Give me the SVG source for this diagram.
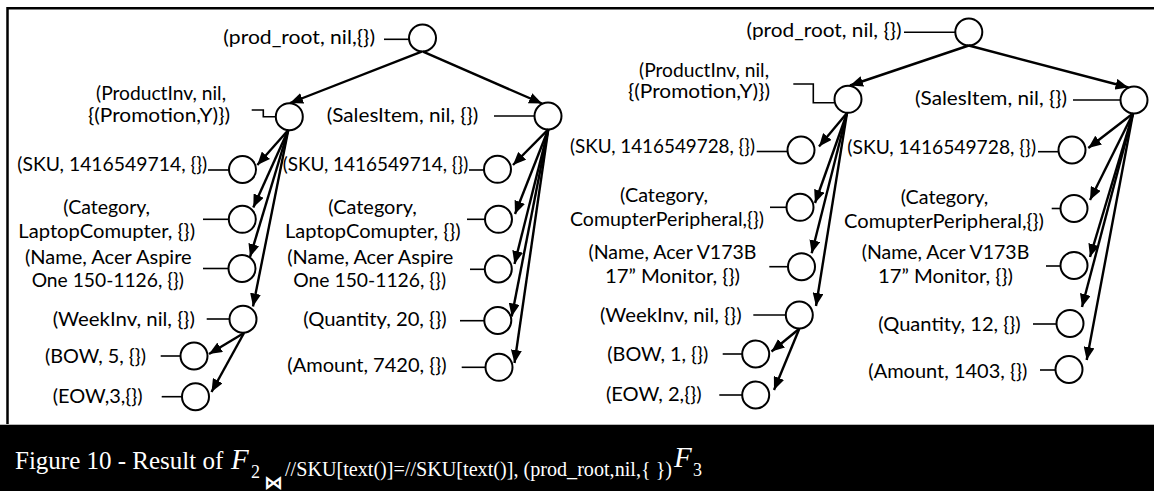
<svg xmlns="http://www.w3.org/2000/svg" width="1154" height="491" viewBox="0 0 1154 491">
  <style>
    .lbl { font-family: Lato, "Open Sans", "Liberation Sans", sans-serif; font-size: 18.5px; fill: #000; text-anchor: middle; }
    .node ellipse { fill: #fff; stroke: #000; stroke-width: 2; }
    .lead { fill: none; stroke: #000; stroke-width: 1.6; }
    .arr { fill: none; stroke: #000; stroke-width: 2.4; marker-end: url(#ah); }
    .cap { font-family: "Liberation Serif", "Times New Roman", serif; fill: #fff; }
  </style>
  <defs>
    <marker id="ah" markerUnits="userSpaceOnUse" markerWidth="14" markerHeight="11" refX="13" refY="5.5" orient="auto">
      <path d="M0,0 L13,5.5 L0,11 Z" fill="#000"/>
    </marker>
  </defs>

  <!-- page background and frame -->
  <rect x="0" y="0" width="1154" height="491" fill="#fff"/>
  <path d="M7.5,424 V8.3 H1160" fill="none" stroke="#000" stroke-width="2.5"/>

  <!-- left tree -->
  <g id="l-root" class="node">
    <path class="lead" d="M384,39.3 H409"/>
    <ellipse cx="422.5" cy="38" rx="13.5" ry="13.5"/>
    <text class="lbl" x="299.2" y="44" textLength="151.7" lengthAdjust="spacingAndGlyphs">(prod_root, nil,{})</text>
  </g>
  <g id="l-productinv" class="node">
    <path class="lead" d="M251.7,110 H263.3 V116.7 H276"/>
    <ellipse cx="289.3" cy="116.7" rx="13.5" ry="13.5"/>
    <text class="lbl" x="161" y="100" textLength="130" lengthAdjust="spacingAndGlyphs">(ProductInv, nil,</text>
    <text class="lbl" x="159" y="122" textLength="142" lengthAdjust="spacingAndGlyphs">{(Promotion,Y)})</text>
  </g>
  <g id="l-salesitem" class="node">
    <path class="lead" d="M494,116 H534.5"/>
    <ellipse cx="548" cy="116" rx="13.5" ry="13.5"/>
    <text class="lbl" x="402.5" y="122" textLength="151.6" lengthAdjust="spacingAndGlyphs">(SalesItem, nil, {})</text>
  </g>
  <g id="l-pi-sku" class="node">
    <path class="lead" d="M208,170 H229"/>
    <ellipse cx="242.5" cy="169.5" rx="13.5" ry="13.5"/>
    <text class="lbl" x="112.3" y="171" textLength="190" lengthAdjust="spacingAndGlyphs">(SKU, 1416549714, {})</text>
  </g>
  <g id="l-pi-category" class="node">
    <path class="lead" d="M203,219.3 H229"/>
    <ellipse cx="242.3" cy="219.3" rx="13.5" ry="13.5"/>
    <text class="lbl" x="106.7" y="214" textLength="86.7" lengthAdjust="spacingAndGlyphs">(Category,</text>
    <text class="lbl" x="106.7" y="237.5" textLength="176.7" lengthAdjust="spacingAndGlyphs">LaptopComupter, {})</text>
  </g>
  <g id="l-pi-name" class="node">
    <path class="lead" d="M203,268.5 H228.5"/>
    <ellipse cx="242" cy="268.5" rx="13.5" ry="13.5"/>
    <text class="lbl" x="108.3" y="263.5" textLength="166.7" lengthAdjust="spacingAndGlyphs">(Name, Acer Aspire</text>
    <text class="lbl" x="107.8" y="287" textLength="152.3" lengthAdjust="spacingAndGlyphs">One 150-1126, {})</text>
  </g>
  <g id="l-weekinv" class="node">
    <path class="lead" d="M206.7,319 H229.5"/>
    <ellipse cx="243" cy="319.2" rx="13.5" ry="13.5"/>
    <text class="lbl" x="123.8" y="326" textLength="142.3" lengthAdjust="spacingAndGlyphs">(WeekInv, nil, {})</text>
  </g>
  <g id="l-bow" class="node">
    <path class="lead" d="M160.7,356 H180.5"/>
    <ellipse cx="194" cy="356" rx="13.5" ry="13.5"/>
    <text class="lbl" x="95.5" y="363" textLength="101" lengthAdjust="spacingAndGlyphs">(BOW, 5, {})</text>
  </g>
  <g id="l-eow" class="node">
    <path class="lead" d="M161.7,396.7 H182"/>
    <ellipse cx="195.5" cy="396.7" rx="13.5" ry="13.5"/>
    <text class="lbl" x="97.7" y="403" textLength="90" lengthAdjust="spacingAndGlyphs">(EOW,3,{})</text>
  </g>
  <g id="l-si-sku" class="node">
    <path class="lead" d="M469,170 H484"/>
    <ellipse cx="497.5" cy="169.3" rx="13.5" ry="13.5"/>
    <text class="lbl" x="375.5" y="171" textLength="185.6" lengthAdjust="spacingAndGlyphs">(SKU, 1416549714, {})</text>
  </g>
  <g id="l-si-category" class="node">
    <path class="lead" d="M467,219.3 H485"/>
    <ellipse cx="498.5" cy="219.3" rx="13.5" ry="13.5"/>
    <text class="lbl" x="372.5" y="214" textLength="88.4" lengthAdjust="spacingAndGlyphs">(Category,</text>
    <text class="lbl" x="372.8" y="237.5" textLength="175.7" lengthAdjust="spacingAndGlyphs">LaptopComupter, {})</text>
  </g>
  <g id="l-si-name" class="node">
    <path class="lead" d="M470,269.3 H484.8"/>
    <ellipse cx="498.3" cy="269" rx="13.5" ry="13.5"/>
    <text class="lbl" x="370.3" y="263.5" textLength="166" lengthAdjust="spacingAndGlyphs">(Name, Acer Aspire</text>
    <text class="lbl" x="369.7" y="287" textLength="152.7" lengthAdjust="spacingAndGlyphs">One 150-1126, {})</text>
  </g>
  <g id="l-quantity" class="node">
    <path class="lead" d="M460,320.7 H484.3"/>
    <ellipse cx="497.8" cy="320.5" rx="13.5" ry="13.5"/>
    <text class="lbl" x="375" y="325.5" textLength="143.4" lengthAdjust="spacingAndGlyphs">(Quantity, 20, {})</text>
  </g>
  <g id="l-amount" class="node">
    <path class="lead" d="M461.7,367.3 H485.5"/>
    <ellipse cx="499" cy="367.3" rx="13.5" ry="13.5"/>
    <text class="lbl" x="367" y="372" textLength="159.4" lengthAdjust="spacingAndGlyphs">(Amount, 7420, {})</text>
  </g>

  <!-- right tree -->
  <g id="r-root" class="node">
    <path class="lead" d="M904,32.3 H955.3"/>
    <ellipse cx="968.8" cy="32" rx="13.5" ry="13.5"/>
    <text class="lbl" x="824" y="37" textLength="155" lengthAdjust="spacingAndGlyphs">(prod_root, nil, {})</text>
  </g>
  <g id="r-productinv" class="node">
    <path class="lead" d="M793.3,84 H813.3 V102.7 H834.5"/>
    <ellipse cx="848" cy="99.3" rx="13.5" ry="13.5"/>
    <text class="lbl" x="704" y="77" textLength="130" lengthAdjust="spacingAndGlyphs">(ProductInv, nil,</text>
    <text class="lbl" x="699" y="98" textLength="142" lengthAdjust="spacingAndGlyphs">{(Promotion,Y)})</text>
  </g>
  <g id="r-salesitem" class="node">
    <path class="lead" d="M1073,100 H1120.5"/>
    <ellipse cx="1134" cy="100" rx="13.5" ry="13.5"/>
    <text class="lbl" x="991" y="105" textLength="152" lengthAdjust="spacingAndGlyphs">(SalesItem, nil, {})</text>
  </g>
  <g id="r-pi-sku" class="node">
    <path class="lead" d="M756.7,151.5 H787.5"/>
    <ellipse cx="801" cy="150" rx="13.5" ry="13.5"/>
    <text class="lbl" x="662.5" y="153" textLength="185" lengthAdjust="spacingAndGlyphs">(SKU, 1416549728, {})</text>
  </g>
  <g id="r-pi-category" class="node">
    <path class="lead" d="M770,207.3 H786.5"/>
    <ellipse cx="800" cy="207.3" rx="13.5" ry="13.5"/>
    <text class="lbl" x="664" y="202" textLength="88" lengthAdjust="spacingAndGlyphs">(Category,</text>
    <text class="lbl" x="667" y="225.5" textLength="194" lengthAdjust="spacingAndGlyphs">ComupterPeripheral,{})</text>
  </g>
  <g id="r-pi-name" class="node">
    <path class="lead" d="M769.3,266.7 H788"/>
    <ellipse cx="801.5" cy="266.7" rx="13.5" ry="13.5"/>
    <text class="lbl" x="672.5" y="258.5" textLength="168" lengthAdjust="spacingAndGlyphs">(Name, Acer V173B</text>
    <text class="lbl" x="672.5" y="282.5" textLength="135" lengthAdjust="spacingAndGlyphs">17” Monitor, {})</text>
  </g>
  <g id="r-weekinv" class="node">
    <path class="lead" d="M753.3,315 H785.8"/>
    <ellipse cx="799.3" cy="315" rx="13.5" ry="13.5"/>
    <text class="lbl" x="670.8" y="322" textLength="141.7" lengthAdjust="spacingAndGlyphs">(WeekInv, nil, {})</text>
  </g>
  <g id="r-bow" class="node">
    <path class="lead" d="M722.7,354 H742.2"/>
    <ellipse cx="755.7" cy="354" rx="13.5" ry="13.5"/>
    <text class="lbl" x="657.8" y="361" textLength="101" lengthAdjust="spacingAndGlyphs">(BOW, 1, {})</text>
  </g>
  <g id="r-eow" class="node">
    <path class="lead" d="M719.3,395 H742.2"/>
    <ellipse cx="755.7" cy="395" rx="13.5" ry="13.5"/>
    <text class="lbl" x="653.8" y="401" textLength="95.7" lengthAdjust="spacingAndGlyphs">(EOW, 2,{})</text>
  </g>
  <g id="r-si-sku" class="node">
    <path class="lead" d="M1038,151.7 H1058.5"/>
    <ellipse cx="1072" cy="150" rx="13.5" ry="13.5"/>
    <text class="lbl" x="941.7" y="153.5" textLength="188.7" lengthAdjust="spacingAndGlyphs">(SKU, 1416549728, {})</text>
  </g>
  <g id="r-si-category" class="node">
    <path class="lead" d="M1051.7,208.5 H1060.5"/>
    <ellipse cx="1074" cy="208.5" rx="13.5" ry="13.5"/>
    <text class="lbl" x="944.5" y="204" textLength="87.6" lengthAdjust="spacingAndGlyphs">(Category,</text>
    <text class="lbl" x="944" y="227.5" textLength="200" lengthAdjust="spacingAndGlyphs">ComupterPeripheral,{})</text>
  </g>
  <g id="r-si-name" class="node">
    <path class="lead" d="M1046,266 H1060.5"/>
    <ellipse cx="1074" cy="265.5" rx="13.5" ry="13.5"/>
    <text class="lbl" x="945.5" y="258.5" textLength="167.6" lengthAdjust="spacingAndGlyphs">(Name, Acer V173B</text>
    <text class="lbl" x="945.5" y="282.5" textLength="135" lengthAdjust="spacingAndGlyphs">17” Monitor, {})</text>
  </g>
  <g id="r-quantity" class="node">
    <path class="lead" d="M1033,324 H1056.5"/>
    <ellipse cx="1070" cy="323.5" rx="13.5" ry="13.5"/>
    <text class="lbl" x="949.5" y="331" textLength="142.4" lengthAdjust="spacingAndGlyphs">(Quantity, 12, {})</text>
  </g>
  <g id="r-amount" class="node">
    <path class="lead" d="M1040,370 H1055.5"/>
    <ellipse cx="1069" cy="369.5" rx="13.5" ry="13.5"/>
    <text class="lbl" x="947.8" y="378" textLength="159" lengthAdjust="spacingAndGlyphs">(Amount, 1403, {})</text>
  </g>

  <!-- parent-to-child edges -->
  <g id="connectors">
    <path class="arr" d="M421.7,51.7 L290,103"/>
    <path class="arr" d="M423,51.7 L542,103.5"/>
    <path class="arr" d="M288.3,130 L257.3,165"/>
    <path class="arr" d="M288.3,130 L253.3,207.5"/>
    <path class="arr" d="M288.3,130 L250,257"/>
    <path class="arr" d="M288.3,130 L253,306.5"/>
    <path class="arr" d="M244,333 L209,354"/>
    <path class="arr" d="M244,333 L211.5,392"/>
    <path class="arr" d="M548.3,129.3 L513,165"/>
    <path class="arr" d="M548.3,129.3 L515,214"/>
    <path class="arr" d="M548.3,129.3 L514.5,264"/>
    <path class="arr" d="M548.3,129.3 L511.7,316.5"/>
    <path class="arr" d="M548.3,129.3 L514.5,363"/>

    <path class="arr" d="M968.8,45.5 L850,85.5"/>
    <path class="arr" d="M968.8,45.5 L1128.5,87.5"/>
    <path class="arr" d="M847,113 L819,146.5"/>
    <path class="arr" d="M847,113 L815,203"/>
    <path class="arr" d="M847,113 L811.7,253.3"/>
    <path class="arr" d="M847,113 L816,306"/>
    <path class="arr" d="M799.3,328.7 L771.5,351.5"/>
    <path class="arr" d="M799.3,328.7 L774,390"/>
    <path class="arr" d="M1133,113.5 L1088.3,148"/>
    <path class="arr" d="M1133,113.5 L1090,200"/>
    <path class="arr" d="M1133,113.5 L1090,257"/>
    <path class="arr" d="M1133,113.5 L1082,307"/>
    <path class="arr" d="M1133,113.5 L1086.7,360"/>
  </g>

  <!-- caption band -->
  <rect x="0" y="424" width="1154" height="67" fill="#000"/>
  <line x1="0" y1="424.5" x2="1154" y2="424.5" stroke="#b8b8b8" stroke-width="1"/>
  <text class="cap" x="15" y="469" font-size="25">Figure 10 - Result of</text>
  <text class="cap" x="231" y="469" font-size="29" font-style="italic">F</text>
  <text class="cap" x="251" y="478" font-size="18">2</text>
  <text x="264" y="489" font-size="19" fill="#fff" font-family="'DejaVu Sans', sans-serif" font-weight="bold">⋈</text>
  <text class="cap" x="285" y="476" font-size="20" textLength="387" lengthAdjust="spacingAndGlyphs">//SKU[text()]=//SKU[text()], (prod_root,nil,{ })</text>
  <text class="cap" x="674" y="467" font-size="29" font-style="italic">F</text>
  <text class="cap" x="693" y="476" font-size="18">3</text>
</svg>
